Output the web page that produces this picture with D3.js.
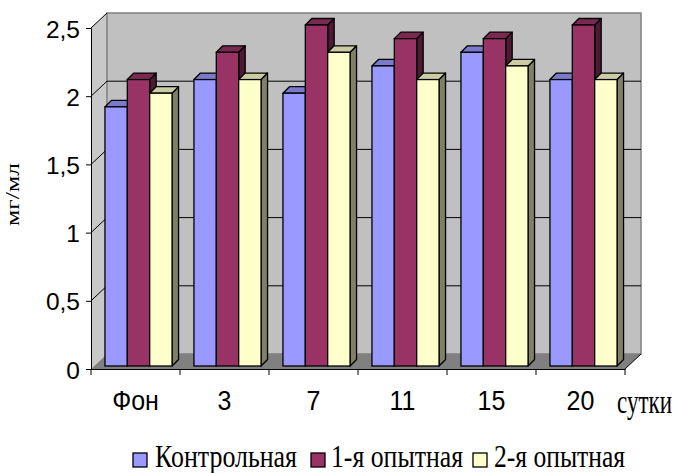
<!DOCTYPE html>
<html><head><meta charset="utf-8">
<script src="https://cdn.jsdelivr.net/npm/d3@7"></script>
<style>body{margin:0;background:#fff}svg{display:block}
.sans{font-family:"Liberation Sans",Arial,sans-serif}
.serif{font-family:"Liberation Serif","Times New Roman",serif}
</style>
</head><body>
<svg id="c" width="677" height="473"></svg>
<script>
const categories = ["Фон", "3", "7", "11", "15", "20"];
const seriesNames = ["Контрольная", "1-я опытная", "2-я опытная"];
const control = [1.9, 2.1, 2.0, 2.2, 2.3, 2.1];
const exp1 = [2.1, 2.3, 2.5, 2.4, 2.4, 2.5];
const exp2 = [2.0, 2.1, 2.3, 2.1, 2.2, 2.1];
const yTicks = [0, 0.5, 1, 1.5, 2, 2.5];
const seriesValues = [control, exp1, exp2];

const colors = [
  {front:"#9999FF", top:"#7a7acc", side:"#4d4d80"},
  {front:"#993366", top:"#7a2952", side:"#4d1a33"},
  {front:"#FFFFCC", top:"#cccca3", side:"#808066"}
];

const svg = d3.select("#c");
const X0 = 91, X1 = 625, Y0 = 369, Y1 = 28;
const DX = 16, DY = 15;
const OFF = 3, BD = 6.5;

const x = d3.scaleBand().domain(categories).range([X0, X1]).paddingInner(0).paddingOuter(0);
const xs = d3.scaleBand().domain(d3.range(3)).range([0, x.bandwidth()]).paddingOuter(0.49).paddingInner(0);
const y = d3.scaleLinear().domain([0, 2.5]).range([Y0, Y1]);

const pts = a => a.map(p => p.join(",")).join(" ");

svg.append("polygon").attr("points", pts([[X0,Y0],[X0,Y1],[X0+DX,Y1-DY],[X0+DX,Y0-DY]]))
  .attr("fill", "#c8c8c8");
svg.append("polygon").attr("points", pts([[X0+DX,Y1-DY],[X1+DX,Y1-DY],[X1+DX,Y0-DY],[X0+DX,Y0-DY]]))
  .attr("fill", "#c0c0c0").attr("stroke", "#808080").attr("stroke-width", 1.5);
svg.append("polygon").attr("points", pts([[X0,Y0],[X1,Y0],[X1+DX,Y0-DY],[X0+DX,Y0-DY]]))
  .attr("fill", "#808080");

yTicks.filter(t => t > 0).forEach(t => {
  svg.append("line").attr("x1", X0).attr("y1", y(t)).attr("x2", X0+DX).attr("y2", y(t)-DY)
    .attr("stroke", "#000").attr("stroke-width", 1);
  if (t < 2.5)
    svg.append("line").attr("x1", X0+DX).attr("y1", y(t)-DY).attr("x2", X1+DX).attr("y2", y(t)-DY)
      .attr("stroke", "#000").attr("stroke-width", 1);
});
svg.append("line").attr("x1", X1).attr("y1", Y0).attr("x2", X1+DX).attr("y2", Y0-DY)
  .attr("stroke", "#000").attr("stroke-width", 1);

const g = svg.append("g");
categories.forEach((c, i) => {
  seriesValues.forEach((vals, s) => {
    const v = vals[i];
    const xl = x(c) + xs(s) + OFF, xr = xl + xs.bandwidth();
    const yb = Y0 - OFF, yt = y(v) - OFF;
    const col = colors[s];
    g.append("polygon").attr("points", pts([[xr,yt],[xr+BD,yt-BD],[xr+BD,yb-BD],[xr,yb]]))
      .attr("fill", col.side).attr("stroke", "#000").attr("stroke-width", 1.3).attr("stroke-linejoin","round");
    g.append("polygon").attr("points", pts([[xl,yt],[xl+BD,yt-BD],[xr+BD,yt-BD],[xr,yt]]))
      .attr("fill", col.top).attr("stroke", "#000").attr("stroke-width", 1.3).attr("stroke-linejoin","round");
    g.append("rect").attr("x", xl).attr("y", yt).attr("width", xr-xl).attr("height", yb-yt)
      .attr("fill", col.front).attr("stroke", "#000").attr("stroke-width", 1.3);
  });
});

const yAxis = d3.axisLeft(y).tickValues(yTicks).tickSize(5).tickPadding(6)
  .tickFormat(d => d3.format("")(d).replace(".", ","));
const ya = svg.append("g").attr("transform", `translate(${X0},0)`).call(yAxis);
ya.attr("font-family", null).attr("font-size", null);
ya.select(".domain").attr("stroke", "#000");
ya.selectAll("text").attr("class", "sans").style("font-size", "24.5px").attr("fill","#000").attr("dy", "0.37em");

const xAxis = d3.axisBottom(x).tickSize(0);
const xa = svg.append("g").attr("transform", `translate(0,${Y0})`).call(xAxis);
xa.attr("font-family", null).attr("font-size", null);
xa.select(".domain").attr("stroke", "#000");
xa.selectAll("text").attr("class", "sans").style("font-size", "25px").attr("fill","#000")
  .attr("y", 0).attr("dy", 0).attr("transform", "translate(0,41) scale(1,1.12)");
xa.selectAll(".bnd").data(categories.concat([null])).enter().append("line")
  .attr("x1", (d,i) => i < categories.length ? x(d) : X1)
  .attr("x2", (d,i) => i < categories.length ? x(d) : X1)
  .attr("y1", 0).attr("y2", 6).attr("stroke", "#000");

svg.append("text").attr("class","serif").attr("transform", "translate(19,194.5) rotate(-90)").attr("text-anchor","middle")
  .style("font-size", "19px").attr("textLength", 63).attr("lengthAdjust","spacingAndGlyphs").text("мг/мл");
svg.append("text").attr("class","serif").attr("transform", "translate(617,413) scale(1,1.38)")
  .style("font-size", "24px").attr("textLength", 55).attr("lengthAdjust","spacingAndGlyphs").text("сутки");

const legX = [133, 311, 473];
const legTextX = [155, 331, 494];
const legLen = [142, 132, 131];
const lg = svg.append("g");
seriesNames.forEach((n, s) => {
  lg.append("rect").attr("x", legX[s]).attr("y", 453).attr("width", 14).attr("height", 14)
    .attr("fill", colors[s].front).attr("stroke", "#000").attr("stroke-width", 1.3);
  lg.append("text").attr("class","serif").attr("transform", `translate(${legTextX[s]},467) scale(1,1.2)`)
    .style("font-size", "26px").attr("textLength", legLen[s]).attr("lengthAdjust","spacingAndGlyphs").text(n);
});
</script>
</body></html>
